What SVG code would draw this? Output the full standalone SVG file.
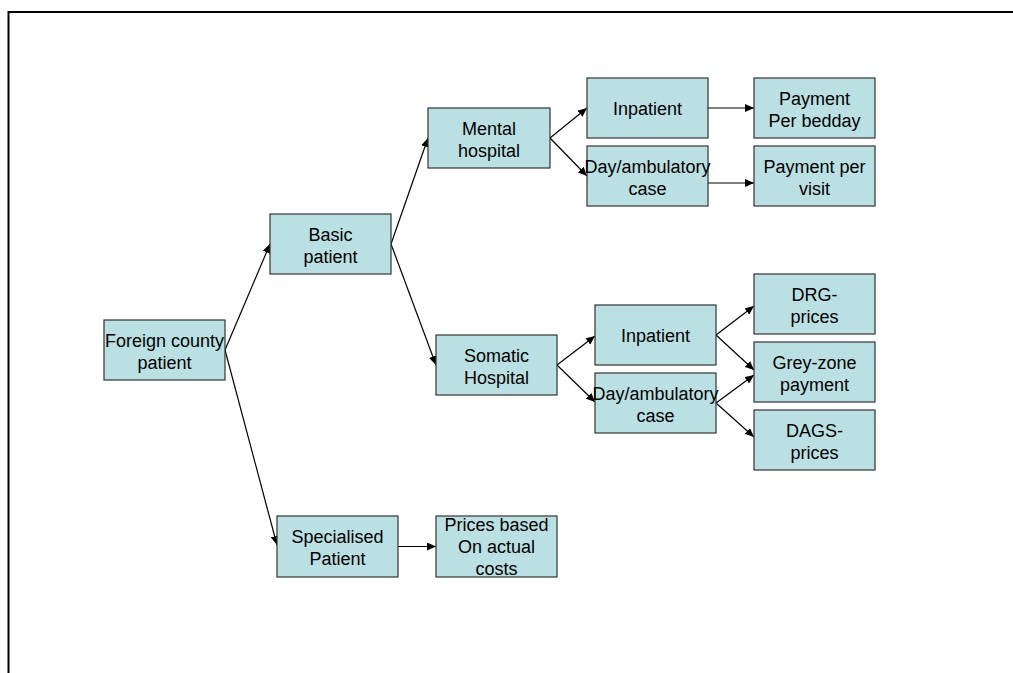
<svg xmlns="http://www.w3.org/2000/svg" width="1013" height="673" viewBox="0 0 1013 673">
<defs>
<style>
.box{fill:#BBE0E3;stroke:#333333;stroke-width:1.2}
.t{font-family:"Liberation Sans",Arial,sans-serif;font-size:18px;fill:#000;text-anchor:middle}
.c{stroke:#000;stroke-width:1.2;fill:none;marker-end:url(#ah)}
.frame{stroke:#000;stroke-width:2;fill:none}
</style>
<marker id="ah" markerUnits="userSpaceOnUse" markerWidth="10" markerHeight="8" refX="9" refY="4" orient="auto">
<path d="M0,0 L9,4 L0,8 z" fill="#000"/>
</marker>
</defs>
<rect width="1013" height="673" fill="#fff"/>
<path class="frame" d="M8.5,673 L8.5,12 L1013,12"/>
<g id="connectors">
<line class="c" x1="225" y1="350" x2="270" y2="244"/>
<line class="c" x1="225" y1="350" x2="277" y2="545"/>
<line class="c" x1="391" y1="244" x2="428" y2="138"/>
<line class="c" x1="391" y1="244" x2="436" y2="365"/>
<line class="c" x1="550" y1="138" x2="587" y2="108"/>
<line class="c" x1="550" y1="138" x2="587" y2="176"/>
<line class="c" x1="708" y1="108" x2="754" y2="108"/>
<line class="c" x1="708" y1="183" x2="754" y2="183"/>
<line class="c" x1="557" y1="365" x2="595" y2="336"/>
<line class="c" x1="557" y1="365" x2="595" y2="402"/>
<line class="c" x1="716" y1="335" x2="754" y2="306"/>
<line class="c" x1="716" y1="335" x2="754" y2="370"/>
<line class="c" x1="716" y1="403" x2="754" y2="375"/>
<line class="c" x1="716" y1="403" x2="754" y2="437"/>
<line class="c" x1="398" y1="546.5" x2="436" y2="546.5"/>
</g>
<g id="foreign"><rect class="box" x="104" y="320" width="121" height="60"/><text class="t" x="164.5" y="347">Foreign county</text><text class="t" x="164.5" y="369">patient</text></g>
<g id="basic"><rect class="box" x="270" y="214" width="121" height="60"/><text class="t" x="330.5" y="241">Basic</text><text class="t" x="330.5" y="263">patient</text></g>
<g id="mental"><rect class="box" x="428" y="108" width="122" height="60"/><text class="t" x="489" y="135">Mental</text><text class="t" x="489" y="157">hospital</text></g>
<g id="inpatient-m"><rect class="box" x="587" y="78" width="121" height="60"/><text class="t" x="647.5" y="115">Inpatient</text></g>
<g id="day-m"><rect class="box" x="587" y="146" width="121" height="60"/><text class="t" x="647.5" y="173">Day/ambulatory</text><text class="t" x="647.5" y="195">case</text></g>
<g id="bedday"><rect class="box" x="754" y="78" width="121" height="60"/><text class="t" x="814.5" y="105">Payment</text><text class="t" x="814.5" y="127">Per bedday</text></g>
<g id="visit"><rect class="box" x="754" y="146" width="121" height="60"/><text class="t" x="814.5" y="173">Payment per</text><text class="t" x="814.5" y="195">visit</text></g>
<g id="somatic"><rect class="box" x="436" y="335" width="121" height="60"/><text class="t" x="496.5" y="362">Somatic</text><text class="t" x="496.5" y="384">Hospital</text></g>
<g id="inpatient-s"><rect class="box" x="595" y="305" width="121" height="60"/><text class="t" x="655.5" y="342">Inpatient</text></g>
<g id="day-s"><rect class="box" x="595" y="373" width="121" height="60"/><text class="t" x="655.5" y="400">Day/ambulatory</text><text class="t" x="655.5" y="422">case</text></g>
<g id="drg"><rect class="box" x="754" y="274" width="121" height="60"/><text class="t" x="814.5" y="301">DRG-</text><text class="t" x="814.5" y="323">prices</text></g>
<g id="grey"><rect class="box" x="754" y="342" width="121" height="60"/><text class="t" x="814.5" y="369">Grey-zone</text><text class="t" x="814.5" y="391">payment</text></g>
<g id="dags"><rect class="box" x="754" y="410" width="121" height="60"/><text class="t" x="814.5" y="437">DAGS-</text><text class="t" x="814.5" y="459">prices</text></g>
<g id="specialised"><rect class="box" x="277" y="516" width="121" height="61"/><text class="t" x="337.5" y="543">Specialised</text><text class="t" x="337.5" y="565">Patient</text></g>
<g id="prices"><rect class="box" x="436" y="516" width="121" height="61"/><text class="t" x="496.5" y="531">Prices based</text><text class="t" x="496.5" y="553">On actual</text><text class="t" x="496.5" y="575">costs</text></g>
</svg>
